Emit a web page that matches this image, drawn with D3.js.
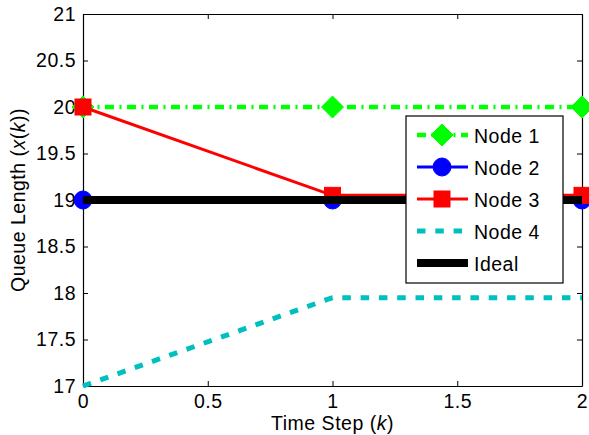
<!DOCTYPE html>
<html>
<head>
<meta charset="utf-8">
<script src="https://cdn.jsdelivr.net/npm/d3@7"></script>
<style>
body { margin: 0; background: #fff; }
text { font-family: "Liberation Sans", Arial, sans-serif; letter-spacing: 0.5px; }
</style>
</head>
<body>
<div class="container"></div>
<script>
// data
var steps = [0, 1, 2];
var node1 = [20, 20, 20];
var node2 = [19, 19, 19];
var node3 = [20, 19.05, 19.05];
var node4 = [17, 17.95, 17.95];
var ideal = [19, 19, 19];
var xTicks = [0, 0.5, 1, 1.5, 2];
var yTicks = [17, 17.5, 18, 18.5, 19, 19.5, 20, 20.5, 21];
var names = ["Node 1", "Node 2", "Node 3", "Node 4", "Ideal"];

var width = 589, height = 435;
var pL = 83, pT = 14, pR = 582, pB = 386;
var fs = "19.5px";

var svg = d3.select(".container").append("svg")
  .attr("width", width).attr("height", height);

var xscale = d3.scaleLinear().domain([0, 2]).range([pL, pR]);
var yscale = d3.scaleLinear().domain([17, 21]).range([pB, pT]);

var series = [
  {name: names[0], v: node1, color: "#00ff00", w: 4.5, dash: "9,5.5,2,5.5", marker: "diamond"},
  {name: names[1], v: node2, color: "#0000ff", w: 3, dash: null, marker: "circle"},
  {name: names[2], v: node3, color: "#ff0000", w: 3, dash: null, marker: "square"},
  {name: names[3], v: node4, color: "#00bfbf", w: 5, dash: "8.5,9.8", marker: null},
  {name: names[4], v: ideal, color: "#000000", w: 8, dash: null, marker: null}
];

// axes box with inward ticks
var axB = svg.append("g").attr("transform", "translate(0," + pB + ")")
  .call(d3.axisBottom(xscale).tickValues(xTicks).tickSizeInner(-5).tickSizeOuter(0).tickPadding(8).tickFormat(d3.format("")));
var axL = svg.append("g").attr("transform", "translate(" + pL + ",0)")
  .call(d3.axisLeft(yscale).tickValues(yTicks).tickSizeInner(-5).tickSizeOuter(0).tickPadding(7).tickFormat(d3.format("")));
var axT = svg.append("g").attr("transform", "translate(0," + pT + ")")
  .call(d3.axisTop(xscale).tickValues(xTicks).tickSizeInner(-5).tickSizeOuter(0).tickFormat(""));
var axR = svg.append("g").attr("transform", "translate(" + pR + ",0)")
  .call(d3.axisRight(yscale).tickValues(yTicks).tickSizeInner(-5).tickSizeOuter(0).tickFormat(""));
[axB, axL, axT, axR].forEach(function(a) {
  a.selectAll("path").attr("stroke", "#000").attr("stroke-width", 1.2);
  a.selectAll("line").attr("stroke", "#000");
  a.selectAll("text").style("font-size", fs).attr("fill", "#000");
});

var line = d3.line().x(function(d, i) { return xscale(steps[i]); }).y(function(d) { return yscale(d); });

function drawMarker(g, type, x, y, color) {
  if (type == "diamond") {
    g.append("path").attr("d", "M" + x + "," + (y - 11) + "L" + (x + 11) + "," + y + "L" + x + "," + (y + 11) + "L" + (x - 11) + "," + y + "Z")
      .attr("fill", color).attr("stroke", color);
  } else if (type == "circle") {
    g.append("circle").attr("cx", x).attr("cy", y).attr("r", 9).attr("fill", color).attr("stroke", color);
  } else if (type == "square") {
    g.append("rect").attr("x", x - 8).attr("y", y - 8).attr("width", 16).attr("height", 16).attr("fill", color).attr("stroke", color);
  }
}

var plot = svg.append("g");
series.forEach(function(s) {
  plot.append("path").datum(s.v).attr("d", line)
    .attr("fill", "none").attr("stroke", s.color).attr("stroke-width", s.w)
    .attr("stroke-dasharray", s.dash);
  if (s.marker) {
    s.v.forEach(function(d, i) { drawMarker(plot, s.marker, xscale(steps[i]), yscale(d), s.color); });
  }
});

// legend
var lg = svg.append("g");
lg.append("rect").attr("x", 406).attr("y", 116).attr("width", 157).attr("height", 167)
  .attr("fill", "#fff").attr("stroke", "#000").attr("stroke-width", 1.2);
series.forEach(function(s, i) {
  var y = 135 + i * 32;
  lg.append("line").attr("x1", 417).attr("x2", 468).attr("y1", y).attr("y2", y)
    .attr("stroke", s.color).attr("stroke-width", s.w).attr("stroke-dasharray", s.dash);
  if (s.marker) drawMarker(lg, s.marker, 442, y, s.color);
  lg.append("text").attr("x", 474).attr("y", y + 7.5).text(s.name).style("font-size", fs);
});

// axis titles
var xt = svg.append("text").attr("x", (pL + pR) / 2).attr("y", 430).attr("text-anchor", "middle").style("font-size", fs);
xt.append("tspan").text("Time Step (");
xt.append("tspan").style("font-style", "italic").text("k");
xt.append("tspan").text(")");

var yt = svg.append("text").attr("transform", "translate(25," + ((pT + pB) / 2) + ") rotate(-90)")
  .attr("text-anchor", "middle").style("font-size", fs);
yt.append("tspan").text("Queue Length (");
yt.append("tspan").style("font-style", "italic").text("x");
yt.append("tspan").text("(");
yt.append("tspan").style("font-style", "italic").text("k");
yt.append("tspan").text("))");
</script>
</body>
</html>
